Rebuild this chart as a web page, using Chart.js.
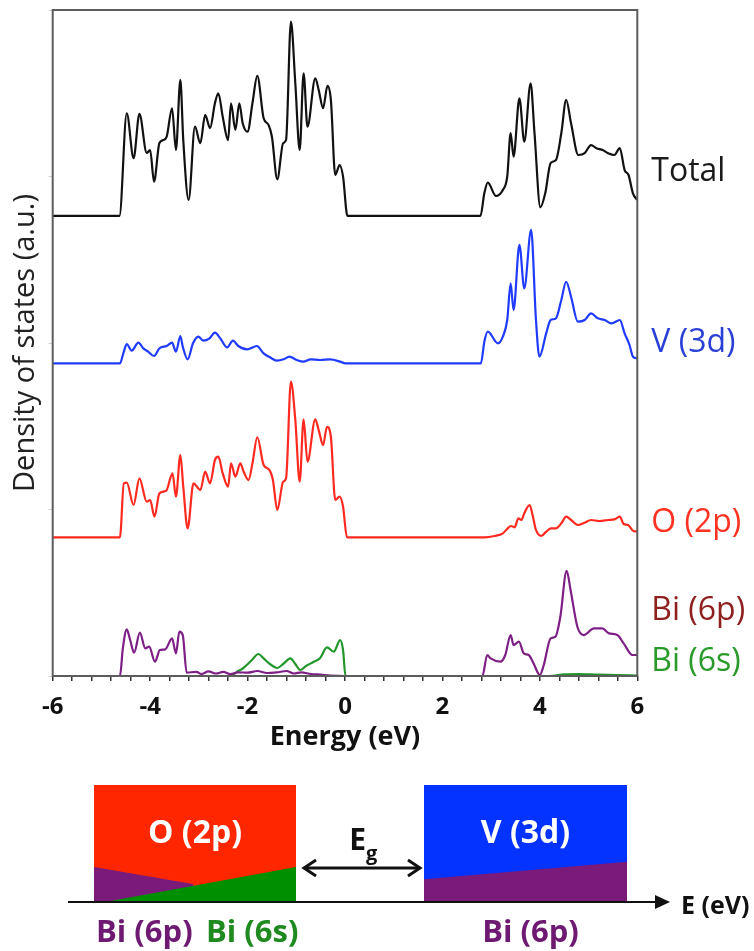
<!DOCTYPE html>
<html>
<head>
<meta charset="utf-8">
<script src="https://cdn.jsdelivr.net/npm/chart.js@4.4.1/dist/chart.umd.min.js"></script>
<style>
  html, body { margin: 0; padding: 0; background: #ffffff; }
  #wrap { position: relative; width: 754px; height: 951px; }
  canvas { display: block; position: absolute; left: 0; }
  #dos { top: 0; }
  #bands { top: 760px; }
</style>
</head>
<body>
<div id="wrap">
  <canvas id="dos" width="754" height="760"></canvas>
  <canvas id="bands" width="754" height="191"></canvas>
</div>
<script>
// Projected density of states of BiVO4, [energy (eV), DOS (a.u.)]
const totalDOS = [[-6,0],[-4.63,0],[-4.48,6.17],[-4.34,3.47],[-4.22,6.13],[-4.07,3.78],[-4.00,3.96],[-3.92,2.06],
  [-3.81,4.38],[-3.73,4.56],[-3.66,4.76],[-3.55,6.47],[-3.47,3.96],[-3.38,8.17],[-3.32,4.56],[-3.21,0.96],
  [-3.08,5.36],[-2.97,4.37],[-2.87,6.07],[-2.77,5.27],[-2.67,6.77],[-2.60,7.37],[-2.51,5.96],[-2.40,4.56],
  [-2.34,6.77],[-2.25,5.17],[-2.17,6.77],[-2.10,5.57],[-2.00,5.06],[-1.90,6.77],[-1.80,8.41],[-1.67,5.87],
  [-1.57,5.47],[-1.50,4.76],[-1.39,2.20],[-1.27,4.37],[-1.21,4.56],[-1.11,11.67],[-1.02,7.97],[-0.93,3.96],
  [-0.85,8.57],[-0.77,5.36],[-0.61,8.27],[-0.54,7.57],[-0.45,6.47],[-0.36,7.81],[-0.29,6.97],[-0.20,2.46],
  [-0.11,3.06],[-0.04,2.36],[0.05,0],[2.78,0],[2.86,1.36],[2.93,2.00],[3.10,1.20],[3.24,1.56],[3.33,2.36],
  [3.40,4.97],[3.46,3.56],[3.58,7.07],[3.68,4.46],[3.81,7.97],[3.89,4.97],[4.01,0.52],[4.11,1.36],[4.22,3.17],
  [4.33,3.36],[4.44,4.97],[4.54,6.97],[4.64,5.57],[4.79,3.66],[4.92,3.77],[5.05,4.26],[5.16,4.07],[5.29,3.96],
  [5.40,3.77],[5.53,3.66],[5.64,4.07],[5.74,2.76],[5.82,2.46],[5.91,1.36],[6.00,0.96]];

const v3dDOS = [[-6,0],[-4.62,0],[-4.55,0.60],[-4.48,1.16],[-4.38,0.76],[-4.24,1.24],[-4.14,0.90],[-4.04,0.70],
  [-3.92,0.44],[-3.81,0.90],[-3.66,1.04],[-3.55,1.24],[-3.47,0.70],[-3.38,1.64],[-3.33,1.00],[-3.23,0.24],
  [-3.12,1.20],[-3.01,1.60],[-2.91,1.36],[-2.78,1.50],[-2.67,1.84],[-2.56,1.50],[-2.42,0.96],[-2.30,1.36],
  [-2.19,1.04],[-2.01,0.84],[-1.81,1.04],[-1.67,0.60],[-1.54,0.36],[-1.40,0.16],[-1.26,0.24],[-1.14,0.40],
  [-0.99,0.20],[-0.85,0.10],[-0.71,0.24],[-0.51,0.20],[-0.30,0.24],[-0.10,0.10],[0.01,0],[2.79,0],[2.86,1.30],
  [2.93,1.90],[3.14,1.20],[3.24,1.60],[3.33,2.60],[3.40,4.80],[3.46,3.20],[3.58,7.11],[3.68,4.50],[3.82,8.01],
  [3.92,2.60],[3.99,0.40],[4.13,1.80],[4.22,2.60],[4.33,2.70],[4.44,3.80],[4.54,4.90],[4.64,4.00],[4.78,2.50],
  [4.92,2.60],[5.05,3.00],[5.19,2.70],[5.33,2.60],[5.47,2.40],[5.64,2.60],[5.74,1.80],[5.84,1.10],[5.91,0.40],
  [6.00,0.30]];

const o2pDOS = [[-6,0],[-4.62,0],[-4.54,3.24],[-4.48,3.28],[-4.34,1.94],[-4.22,3.54],[-4.07,2.14],[-4.00,2.24],
  [-3.91,1.24],[-3.81,2.64],[-3.67,2.80],[-3.54,3.84],[-3.47,2.44],[-3.38,4.94],[-3.32,3.04],[-3.23,0.54],
  [-3.11,3.24],[-2.97,2.84],[-2.87,3.94],[-2.77,3.24],[-2.67,4.64],[-2.60,4.84],[-2.51,3.84],[-2.40,3.04],
  [-2.34,4.44],[-2.25,3.64],[-2.15,4.44],[-2.08,3.94],[-1.98,3.44],[-1.90,4.44],[-1.80,6.01],[-1.67,4.34],
  [-1.55,4.04],[-1.48,3.44],[-1.39,1.64],[-1.27,3.34],[-1.21,3.54],[-1.11,9.35],[-1.02,7.05],[-0.93,3.34],
  [-0.85,7.09],[-0.77,4.54],[-0.61,7.09],[-0.54,6.44],[-0.45,5.54],[-0.37,6.64],[-0.29,6.04],[-0.20,2.24],
  [-0.11,2.44],[-0.04,1.84],[0.04,0],[2.86,0],[3.07,0.08],[3.24,0.24],[3.34,0.54],[3.41,0.68],[3.48,0.60],
  [3.56,1.14],[3.62,1.04],[3.68,1.44],[3.79,1.94],[3.85,1.34],[3.92,0.44],[4.03,0.08],[4.13,0.34],[4.23,0.54],
  [4.33,0.54],[4.44,0.84],[4.54,1.24],[4.64,1.04],[4.78,0.74],[4.92,0.88],[5.05,1.04],[5.22,0.98],[5.40,1.04],
  [5.53,1.08],[5.64,1.24],[5.72,0.80],[5.81,0.74],[5.91,0.40],[6.00,0.34]];

const bi6pDOS = [[-6,0],[-4.62,0],[-4.56,1.66],[-4.48,2.80],[-4.41,2.16],[-4.33,1.40],[-4.21,2.60],[-4.10,1.66],
  [-4.02,1.76],[-3.90,0.86],[-3.80,1.56],[-3.69,1.60],[-3.55,2.26],[-3.47,1.36],[-3.40,2.66],[-3.33,2.46],
  [-3.25,0.20],[-3.05,0.25],[-2.95,0.12],[-2.80,0.28],[-2.65,0.15],[-2.50,0.25],[-2.35,0.12],[-2.20,0.22],
  [-2.00,0.20],[-1.80,0.30],[-1.60,0.18],[-1.40,0.22],[-1.20,0.30],[-1.05,0.15],[-0.90,0.22],[-0.70,0.12],
  [-0.50,0.08],[-0.30,0.03],[0.00,0],[2.82,0],[2.92,1.26],[2.99,1.06],[3.19,0.86],[3.29,1.26],[3.40,2.46],
  [3.46,1.86],[3.57,2.06],[3.67,1.36],[3.77,1.26],[3.87,0.76],[4.00,0.06],[4.08,0.66],[4.22,2.26],[4.32,2.36],
  [4.42,3.56],[4.55,6.32],[4.63,5.17],[4.77,2.96],[4.90,2.46],[5.11,2.86],[5.28,2.86],[5.42,2.56],[5.59,2.46],
  [5.72,1.96],[5.90,1.26],[6.00,1.26]];

const bi6sDOS = [[-6,0],[-2.35,0],[-2.22,0.25],[-2.10,0.45],[-1.91,0.96],[-1.78,1.32],[-1.67,1.06],[-1.54,0.72],
  [-1.39,0.48],[-1.27,0.72],[-1.12,1.06],[-1.02,0.72],[-0.92,0.36],[-0.80,0.60],[-0.65,0.84],[-0.51,1.08],
  [-0.37,1.72],[-0.23,1.46],[-0.10,2.16],[-0.04,1.56],[0.01,0],[4.20,0],[4.50,0.10],[4.80,0.12],[5.20,0.08],
  [5.60,0.06],[6.00,0.03]];

// Schematic band picture (arbitrary units): [position, height]
const o2pBlock = [[12.47,8.24],[39.26,8.24]];
const bi6pValence = [[12.47,2.46],[25.60,1.27]];
const bi6sValence = [[13.93,0],[39.26,2.46]];
const v3dBlock = [[56.23,8.24],[83.16,8.24]];
const bi6pConduction = [[56.23,1.60],[83.16,2.84]];

const FONT = "'Open Sans', 'DejaVu Sans', sans-serif";
const BLACK = '#111111', BLUE = '#1f3bff', RED = '#ff2a1f', PURPLE = '#7d1f85', GREEN = '#22962a';

// vertical stacking of the curves in the panel
const stackShift = { total: 27.63, v3d: 18.78, o2p: 8.33, bi: 0 };

const curveLabels = [
  { text: 'Total',   color: '#1a1a1a', at: 30.27 },
  { text: 'V (3d)',  color: '#2a3fd6', at: 20.0 },
  { text: 'O (2p)',  color: '#ff3322', at: 9.19 },
  { text: 'Bi (6p)', color: '#8e2020', at: 3.90 },
  { text: 'Bi (6s)', color: '#2a9a2a', at: 0.84 }
];

function shifted(pairs, shift) {
  return pairs.map(p => ({ x: p[0], y: p[1] + shift }));
}

const frameBox = {
  id: 'frameBox',
  afterDatasetsDraw(chart) {
    const { ctx, chartArea: a } = chart;
    ctx.save();
    ctx.strokeStyle = '#5c5c5c';
    ctx.lineWidth = 2;
    ctx.strokeRect(a.left, a.top, a.right - a.left, a.bottom - a.top);
    ctx.restore();
  }
};

const curveNames = {
  id: 'curveNames',
  afterDraw(chart) {
    const { ctx, chartArea: a } = chart;
    const y = chart.scales.y;
    ctx.save();
    ctx.font = '32px ' + FONT;
    ctx.textAlign = 'left';
    ctx.textBaseline = 'middle';
    curveLabels.forEach(l => {
      ctx.fillStyle = l.color;
      ctx.fillText(l.text, a.right + 14, y.getPixelForValue(l.at));
    });
    ctx.restore();
  }
};

const line = (pairs, shift, color) => ({
  data: shifted(pairs, shift),
  borderColor: color,
  backgroundColor: color,
  borderWidth: 2.2,
  pointRadius: 0,
  fill: false,
  cubicInterpolationMode: 'monotone'
});

new Chart(document.getElementById('dos'), {
  type: 'line',
  data: {
    datasets: [
      line(totalDOS, stackShift.total, BLACK),
      line(v3dDOS, stackShift.v3d, BLUE),
      line(o2pDOS, stackShift.o2p, RED),
      line(bi6pDOS, stackShift.bi, PURPLE),
      line(bi6sDOS, stackShift.bi, GREEN)
    ]
  },
  options: {
    responsive: false,
    animation: false,
    devicePixelRatio: 1,
    layout: { padding: { left: 0, top: 10, right: 116.7, bottom: 0 } },
    plugins: { legend: { display: false }, tooltip: { enabled: false } },
    scales: {
      x: {
        type: 'linear', min: -6, max: 6,
        afterFit(s) { s.height = 84; },
        border: { display: false },
        grid: { drawOnChartArea: false, drawTicks: true, tickLength: 5, color: '#333333', lineWidth: 1.5 },
        ticks: {
          stepSize: 0.4, autoSkip: false, maxRotation: 0, padding: 12, color: '#111111',
          font: { family: FONT, size: 24, weight: 'bold' },
          callback(v) {
            const r = Math.round(v);
            return (Math.abs(v - r) < 1e-6 && r % 2 === 0) ? String(r) : '';
          }
        },
        title: { display: true, text: 'Energy (eV)', color: '#111111',
                 font: { family: FONT, size: 27, weight: 'bold' }, padding: { top: 0, bottom: 6 } }
      },
      y: {
        min: 0, max: 40,
        afterFit(s) { s.width = 52.7; },
        border: { display: false },
        grid: { drawOnChartArea: false, tickLength: 4, color: '#cfcfcf' },
        ticks: { display: false, stepSize: 10 },
        title: { display: true, text: 'Density of states (a.u.)', color: '#222222',
                 font: { family: FONT, size: 29 }, padding: { top: 8, bottom: 0 } }
      }
    }
  },
  plugins: [frameBox, curveNames]
});

// ---- schematic of the band edges ----
const bandNotes = {
  id: 'bandNotes',
  afterDraw(chart) {
    const { ctx } = chart;
    const xs = chart.scales.x, ys = chart.scales.y;
    const base = ys.getPixelForValue(0);
    const mid = blk => xs.getPixelForValue((blk[0][0] + blk[1][0]) / 2);
    ctx.save();
    // energy axis with arrow
    ctx.strokeStyle = '#111'; ctx.fillStyle = '#111'; ctx.lineWidth = 2;
    ctx.beginPath(); ctx.moveTo(68, base); ctx.lineTo(658, base); ctx.stroke();
    ctx.beginPath(); ctx.moveTo(670, base); ctx.lineTo(655, base - 7); ctx.lineTo(655, base + 7); ctx.closePath(); ctx.fill();
    ctx.font = 'bold 25px ' + FONT; ctx.textBaseline = 'middle'; ctx.textAlign = 'left';
    ctx.fillText('E (eV)', 681, base + 5);

    // band gap double arrow
    const gy = ys.getPixelForValue(2.4);
    const gx0 = xs.getPixelForValue(o2pBlock[1][0]) + 8, gx1 = xs.getPixelForValue(v3dBlock[0][0]) - 4;
    ctx.lineWidth = 3;
    ctx.beginPath(); ctx.moveTo(gx0, gy); ctx.lineTo(gx1, gy); ctx.stroke();
    ctx.beginPath();
    ctx.moveTo(gx0 + 12, gy - 8); ctx.lineTo(gx0, gy); ctx.lineTo(gx0 + 12, gy + 8);
    ctx.moveTo(gx1 - 12, gy - 8); ctx.lineTo(gx1, gy); ctx.lineTo(gx1 - 12, gy + 8);
    ctx.stroke();
    const gc = (gx0 + gx1) / 2;
    ctx.font = 'bold 30px ' + FONT; ctx.textAlign = 'right';
    ctx.fillText('E', gc + 4, gy - 26);
    ctx.font = 'bold 20px ' + FONT; ctx.textAlign = 'left';
    ctx.fillText('g', gc + 4, gy - 14);

    // labels in the blocks
    ctx.fillStyle = '#ffffff'; ctx.font = 'bold 32px ' + FONT; ctx.textAlign = 'center';
    const ty = ys.getPixelForValue(4.8);
    ctx.fillText('O (2p)', mid(o2pBlock), ty);
    ctx.fillText('V (3d)', mid(v3dBlock), ty);

    // orbital labels under the axis
    const ly = base + 31;
    ctx.font = 'bold 31px ' + FONT;
    ctx.textAlign = 'left';
    ctx.fillStyle = '#6e1a72';
    ctx.fillText('Bi (6p)', xs.getPixelForValue(o2pBlock[0][0]) + 2, ly);
    ctx.fillStyle = '#1f8a1f';
    ctx.fillText('Bi (6s)', xs.getPixelForValue(o2pBlock[0][0]) + 112, ly);
    ctx.fillStyle = '#6e1a72'; ctx.textAlign = 'center';
    ctx.fillText('Bi (6p)', mid(v3dBlock) + 5, ly);
    ctx.restore();
  }
};

const block = (pairs, color) => ({
  data: pairs.map(p => ({ x: p[0], y: p[1] })),
  backgroundColor: color,
  borderColor: 'rgba(0,0,0,0)',
  borderWidth: 0,
  pointRadius: 0,
  fill: 'origin'
});

new Chart(document.getElementById('bands'), {
  type: 'line',
  data: {
    datasets: [
      block(bi6sValence, '#008f00'),
      block(bi6pValence, '#7a1a7a'),
      block(o2pBlock, '#ff2600'),
      block(bi6pConduction, '#7a1a7a'),
      block(v3dBlock, '#0433ff')
    ]
  },
  options: {
    responsive: false,
    animation: false,
    devicePixelRatio: 1,
    layout: { padding: { left: 0, right: 0, top: 0, bottom: 49 } },
    plugins: { legend: { display: false }, tooltip: { enabled: false } },
    scales: {
      x: { type: 'linear', display: false, min: 0, max: 100 },
      y: { display: false, min: 0, max: 10 }
    }
  },
  plugins: [bandNotes]
});
</script>
</body>
</html>
